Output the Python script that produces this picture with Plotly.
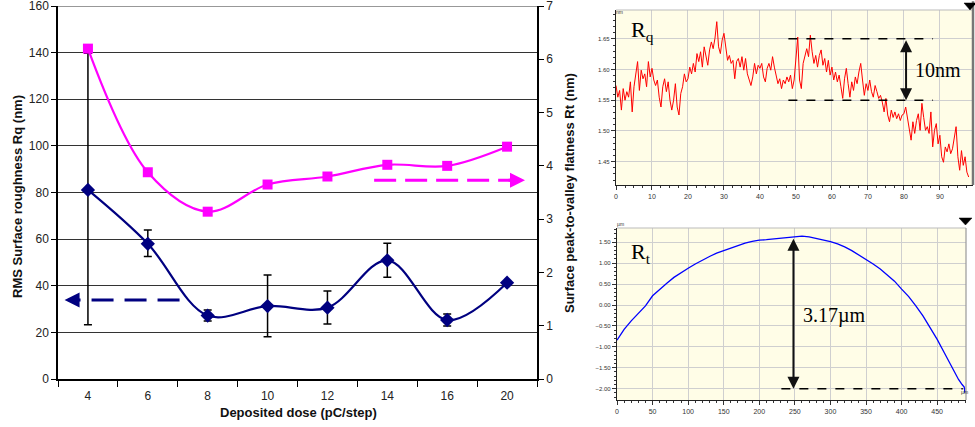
import plotly.graph_objects as go

# ---------------- main chart data ----------------
doses = ["4", "6", "8", "10", "12", "14", "16", "20"]
rq_rms = [81.1, 58.0, 27.2, 31.3, 30.6, 50.9, 25.3, 41.3]
rq_err_plus = [58.6, 5.9, 2.4, 13.3, 7.1, 7.3, 2.6, 0.0]
rq_err_minus = [57.8, 5.5, 2.3, 13.2, 7.0, 7.3, 2.6, 0.0]
rt_pv = [6.2, 3.88, 3.14, 3.65, 3.80, 4.02, 4.0, 4.36]

left_ticks = [0, 20, 40, 60, 80, 100, 120, 140, 160]
right_ticks = [0, 1, 2, 3, 4, 5, 6, 7]

# ---------------- Rq profile (top right) ----------------
rq_pos = [0, 0.5, 1, 1.5, 2, 2.5, 3, 3.5, 4, 4.5, 5, 5.5, 6, 6.5, 7, 7.5, 8, 8.5, 9, 9.5,
          10, 10.5, 11, 11.5, 12, 12.5, 13, 13.5, 14, 14.5, 15, 15.5, 16, 16.5, 17, 17.5, 18, 18.5, 19, 19.5,
          20, 20.5, 21, 21.5, 22, 22.5, 23, 23.5, 24, 24.5, 25, 25.5, 26, 26.5, 27, 27.5, 28, 28.5, 29, 29.5,
          30, 30.5, 31, 31.5, 32, 32.5, 33, 33.5, 34, 34.5, 35, 35.5, 36, 36.5, 37, 37.5, 38, 38.5, 39, 39.5,
          40, 40.5, 41, 41.5, 42, 42.5, 43, 43.5, 44, 44.5, 45, 45.5, 46, 46.5, 47, 47.5, 48, 48.5, 49, 49.5,
          50, 50.5, 51, 51.5, 52, 52.5, 53, 53.5, 54, 54.5, 55, 55.5, 56, 56.5, 57, 57.5, 58, 58.5, 59, 59.5,
          60, 60.5, 61, 61.5, 62, 62.5, 63, 63.5, 64, 64.5, 65, 65.5, 66, 66.5, 67, 67.5, 68, 68.5, 69, 69.5,
          70, 70.5, 71, 71.5, 72, 72.5, 73, 73.5, 74, 74.5, 75, 75.5, 76, 76.5, 77, 77.5, 78, 78.5, 79, 79.5,
          80, 80.5, 81, 81.5, 82, 82.5, 83, 83.5, 84, 84.5, 85, 85.5, 86, 86.5, 87, 87.5, 88, 88.5, 89, 89.5,
          90, 90.5, 91, 91.5, 92, 92.5, 93, 93.5, 94, 94.5, 95, 95.5, 96, 96.5, 97, 97.5, 98]
rq_profile = [
    1.574, 1.555, 1.566, 1.534, 1.569, 1.550, 1.564, 1.555, 1.580, 1.531,
    1.572, 1.593, 1.613, 1.566, 1.599, 1.585, 1.593, 1.572, 1.613, 1.588,
    1.602, 1.583, 1.574, 1.583, 1.555, 1.539, 1.572, 1.585, 1.564, 1.580,
    1.550, 1.534, 1.550, 1.577, 1.539, 1.526, 1.561, 1.572, 1.593, 1.580,
    1.585, 1.604, 1.593, 1.610, 1.596, 1.626, 1.613, 1.629, 1.604, 1.637,
    1.618, 1.607, 1.632, 1.645, 1.634, 1.651, 1.678, 1.637, 1.626, 1.648,
    1.659, 1.637, 1.615, 1.623, 1.610, 1.615, 1.585, 1.613, 1.618, 1.604,
    1.621, 1.599, 1.618, 1.593, 1.583, 1.574, 1.588, 1.610, 1.593, 1.607,
    1.602, 1.610, 1.588, 1.580, 1.602, 1.610, 1.599, 1.621, 1.604, 1.588,
    1.577, 1.585, 1.569, 1.583, 1.577, 1.588, 1.580, 1.591, 1.569, 1.583,
    1.618, 1.653, 1.583, 1.569, 1.610, 1.623, 1.634, 1.621, 1.656, 1.629,
    1.610, 1.623, 1.604, 1.623, 1.632, 1.607, 1.618, 1.596, 1.615, 1.591,
    1.604, 1.583, 1.596, 1.580, 1.591, 1.572, 1.553, 1.585, 1.602, 1.577,
    1.555, 1.580, 1.566, 1.588, 1.577, 1.596, 1.610, 1.583, 1.558, 1.577,
    1.566, 1.583, 1.564, 1.555, 1.574, 1.564, 1.553, 1.558, 1.547, 1.531,
    1.553, 1.526, 1.515, 1.534, 1.522, 1.531, 1.520, 1.528, 1.517, 1.526,
    1.528, 1.539, 1.522, 1.501, 1.485, 1.515, 1.496, 1.517, 1.528, 1.501,
    1.545, 1.522, 1.501, 1.507, 1.496, 1.531, 1.474, 1.501, 1.512, 1.479,
    1.493, 1.458, 1.449, 1.474, 1.466, 1.479, 1.463, 1.471, 1.490, 1.507,
    1.458, 1.436, 1.468, 1.444, 1.458, 1.433, 1.425]
rq_xticks = [0, 10, 20, 30, 40, 50, 60, 70, 80, 90]
rq_yticks = [1.45, 1.50, 1.55, 1.60, 1.65]

# ---------------- Rt profile (bottom right) ----------------
rt_pos = [0, 10, 20, 30, 40, 50, 60, 70, 80, 90, 100, 110, 120, 130, 140, 150, 160, 170, 180, 190,
          200, 210, 220, 230, 240, 250, 260, 270, 280, 290, 300, 310, 320, 330, 340, 350, 360, 370, 380,
          390, 400, 410, 420, 430, 440, 450, 460, 470, 480, 485, 488, 489]
rt_profile = [-0.84, -0.58, -0.38, -0.20, -0.02, 0.22, 0.38, 0.52, 0.66, 0.78, 0.88, 0.98, 1.08, 1.16,
              1.24, 1.30, 1.36, 1.42, 1.48, 1.52, 1.55, 1.56, 1.58, 1.60, 1.62, 1.636, 1.644, 1.628,
              1.596, 1.564, 1.516, 1.46, 1.39, 1.30, 1.20, 1.08, 0.98, 0.86, 0.72, 0.57, 0.38, 0.20,
              -0.02, -0.26, -0.54, -0.82, -1.14, -1.46, -1.78, -1.90, -1.96, -2.10]
rt_xticks = [0, 50, 100, 150, 200, 250, 300, 350, 400, 450]
rt_yticks = [-2.0, -1.5, -1.0, -0.5, 0.0, 0.5, 1.0, 1.5]

W, H = 975, 427
def px(x):
    return x / W
def py(y):
    return 1 - y / H

NAVY = "#000080"
MAG = "#FF00FF"
FONT = "Liberation Sans"
SERIF = "Liberation Serif"

fig = go.Figure()

fig.add_trace(go.Scatter(
    x=doses, y=rq_rms, mode="lines+markers", xaxis="x", yaxis="y",
    line=dict(color=NAVY, width=2.2, shape="spline", smoothing=1.0),
    marker=dict(symbol="diamond", size=11, color=NAVY),
    error_y=dict(type="data", array=rq_err_plus, arrayminus=rq_err_minus,
                 color="black", thickness=1.5, width=4),
    showlegend=False))

fig.add_trace(go.Scatter(
    x=doses, y=rt_pv, mode="lines+markers", xaxis="x", yaxis="y2",
    line=dict(color=MAG, width=2.2, shape="spline", smoothing=1.0),
    marker=dict(symbol="square", size=10, color=MAG),
    showlegend=False))

fig.add_trace(go.Scatter(
    x=rq_pos, y=rq_profile, mode="lines", xaxis="x2", yaxis="y3",
    line=dict(color="#FF0000", width=1), showlegend=False))

fig.add_trace(go.Scatter(
    x=rt_pos, y=rt_profile, mode="lines", xaxis="x3", yaxis="y4",
    line=dict(color="#0000FF", width=1.3), showlegend=False))

tickfont = dict(family=FONT, size=12, color="#222")
small_font = dict(family=FONT, size=7, color="#333")

fig.update_layout(
    width=W, height=H, margin=dict(l=0, r=0, t=0, b=0, autoexpand=False),
    paper_bgcolor="white", plot_bgcolor="white",
    font=dict(family=FONT),
    xaxis=dict(domain=[px(58), px(537)], type="category", range=[-0.5, 7.5],
               tickson="boundaries", ticks="outside", ticklen=6, tickwidth=1.3,
               tickcolor="black", showline=True, linecolor="black", linewidth=1.5,
               showgrid=False, tickfont=tickfont, anchor="y", automargin=False,
               ticklabelstandoff=5),
    yaxis=dict(domain=[py(379), py(6)], range=[0, 160], tickvals=left_ticks,
               ticks="outside", ticklen=5, tickwidth=1.3, tickcolor="black",
               showline=True, linecolor="black", linewidth=1.5,
               showgrid=True, gridcolor="#333", gridwidth=1, zeroline=False,
               tickfont=tickfont, anchor="x", automargin=False, ticklabeloverflow="allow"),
    yaxis2=dict(domain=[py(379), py(6)], range=[0, 7], tickvals=right_ticks,
                overlaying="y", side="right", anchor="x",
                ticks="outside", ticklen=5, tickwidth=1.3, tickcolor="black",
                showline=True, linecolor="black", linewidth=1.5,
                showgrid=False, zeroline=False, tickfont=tickfont, automargin=False,
                ticklabeloverflow="allow"),
    xaxis2=dict(domain=[px(616), px(973)], range=[0, 99.2], tickvals=rq_xticks,
                anchor="y3", ticks="outside", ticklen=4, tickcolor="#333",
                minor=dict(ticks="outside", ticklen=2, dtick=2.5, tickcolor="#333", showgrid=False),
                showline=True, linecolor="#222", linewidth=1.2,
                showgrid=True, gridcolor="#cfcfcf", gridwidth=1, zeroline=False,
                tickfont=small_font, automargin=False),
    yaxis3=dict(domain=[py(185), py(10)], range=[1.412, 1.697], tickvals=rq_yticks,
                tickformat=".2f", anchor="x2", ticks="outside", ticklen=4, tickcolor="#333",
                minor=dict(ticks="outside", ticklen=2, dtick=0.01, tickcolor="#333", showgrid=False),
                showline=True, linecolor="#222", linewidth=1.2,
                showgrid=True, gridcolor="#cfcfcf", gridwidth=1, zeroline=False,
                tickfont=dict(family=FONT, size=6, color="#333"), automargin=False),
    xaxis3=dict(domain=[px(617), px(966)], range=[0, 490.5], tickvals=rt_xticks,
                anchor="y4", ticks="outside", ticklen=4, tickcolor="#333",
                minor=dict(ticks="outside", ticklen=2, dtick=10, tickcolor="#333", showgrid=False),
                showline=True, linecolor="#222", linewidth=1.2,
                showgrid=True, gridcolor="#cfcfcf", gridwidth=1, zeroline=False,
                tickfont=small_font, automargin=False),
    yaxis4=dict(domain=[py(400), py(228)], range=[-2.27, 1.84], tickvals=rt_yticks,
                tickformat=".2f", anchor="x3", ticks="outside", ticklen=4, tickcolor="#333",
                minor=dict(ticks="outside", ticklen=2, dtick=0.1, tickcolor="#333", showgrid=False),
                showline=True, linecolor="#222", linewidth=1.2,
                showgrid=True, gridcolor="#cfcfcf", gridwidth=1, zeroline=False,
                tickfont=dict(family=FONT, size=6, color="#333"), automargin=False),
)

shapes = []
# yellow backgrounds for the profile panels
shapes.append(dict(type="rect", xref="x2 domain", yref="y3 domain", x0=0, x1=1, y0=0, y1=1,
                   fillcolor="#FFFDE7", line=dict(width=0), layer="below"))
shapes.append(dict(type="rect", xref="x3 domain", yref="y4 domain", x0=0, x1=1, y0=0, y1=1,
                   fillcolor="#FFFDE7", line=dict(width=0), layer="below"))
# top gridline of main chart (plotly drops gridlines on the domain edge)
shapes.append(dict(type="line", xref="x domain", yref="y", x0=0, x1=1, y0=160, y1=160,
                   line=dict(color="#333", width=1)))
# panel frames (top/right)
shapes.append(dict(type="line", xref="x2 domain", yref="y3 domain", x0=0, x1=1, y0=1, y1=1,
                   line=dict(color="#bbbbbb", width=1)))
shapes.append(dict(type="line", xref="x2 domain", yref="y3 domain", x0=1, x1=1, y0=0, y1=1.05,
                   line=dict(color="#777777", width=2.5)))
shapes.append(dict(type="line", xref="x3 domain", yref="y4 domain", x0=0, x1=1, y0=1, y1=1,
                   line=dict(color="#bbbbbb", width=1)))
shapes.append(dict(type="line", xref="x3 domain", yref="y4 domain", x0=1, x1=1, y0=0, y1=1,
                   line=dict(color="#999999", width=1.2)))
# main chart dashed arrows
shapes.append(dict(type="line", xref="x", yref="y", x0=1.53, x1=-0.22, y0=33.9, y1=33.9,
                   line=dict(color=NAVY, width=3, dash="22px,11px")))
shapes.append(dict(type="line", xref="x", yref="y2", x0=4.78, x1=7.12, y0=3.73, y1=3.73,
                   line=dict(color=MAG, width=3, dash="22px,9px")))
# Rq dashed reference lines
for yv in [1.65, 1.55]:
    shapes.append(dict(type="line", xref="x2", yref="y3", x0=47.9, x1=88.1, y0=yv, y1=yv,
                       line=dict(color="black", width=1.5, dash="dash")))
# Rt dashed reference line
shapes.append(dict(type="line", xref="x3", yref="y4", x0=231, x1=486, y0=-2.0, y1=-2.0,
                   line=dict(color="black", width=1.5, dash="dash")))

# corner cursor triangles
def tri(xl, xr, yt, yb):
    xm = (xl + xr) / 2
    return dict(type="path", xref="paper", yref="paper",
                path=f"M {px(xl)},{py(yt)} L {px(xr)},{py(yt)} L {px(xm)},{py(yb)} Z",
                fillcolor="black", line=dict(color="black", width=0.5))
shapes.append(tri(964, 976, 3, 10))
shapes.append(tri(959, 972, 218, 225))

annotations = []
# axis titles
annotations.append(dict(text="<b>RMS Surface roughness Rq (nm)</b>", xref="paper", yref="paper",
                        x=px(17), y=py(197), textangle=-90, showarrow=False,
                        font=dict(family=FONT, size=13, color="#111"), xanchor="center", yanchor="middle"))
annotations.append(dict(text="<b>Surface peak-to-valley flatness Rt (nm)</b>", xref="paper", yref="paper",
                        x=px(569), y=py(193), textangle=-90, showarrow=False,
                        font=dict(family=FONT, size=13, color="#111"), xanchor="center", yanchor="middle"))
annotations.append(dict(text="<b>Deposited dose (pC/step)</b>", xref="paper", yref="paper",
                        x=px(298), y=py(412), showarrow=False,
                        font=dict(family=FONT, size=13, color="#111"), xanchor="center", yanchor="middle"))
# arrow heads of main chart dashed arrows
annotations.append(dict(text="", xref="x", yref="y", x=-0.39, y=33.9, ax=-0.12, ay=33.9,
                        axref="x", ayref="y", showarrow=True, arrowhead=2, arrowsize=1,
                        arrowwidth=3, arrowcolor=NAVY))
annotations.append(dict(text="", xref="x", yref="y2", x=7.3, y=3.73, ax=7.0, ay=3.73,
                        axref="x", ayref="y2", showarrow=True, arrowhead=2, arrowsize=1,
                        arrowwidth=3, arrowcolor=MAG))
# Rq panel annotations
annotations.append(dict(text="R<sub>q</sub>", xref="x2", yref="y3", x=3.5, y=1.662,
                        showarrow=False, xanchor="left", yanchor="middle",
                        font=dict(family=SERIF, size=22, color="black")))
annotations.append(dict(text="", xref="x2", yref="y3", x=80.6, y=1.55, ax=80.6, ay=1.65,
                        axref="x2", ayref="y3", showarrow=True, arrowhead=2, arrowside="end+start",
                        arrowsize=1.2, arrowwidth=2, arrowcolor="#111"))
annotations.append(dict(text="10nm", xref="x2", yref="y3", x=82.5, y=1.6,
                        showarrow=False, xanchor="left", yanchor="middle",
                        font=dict(family=SERIF, size=20, color="black")))
# Rt panel annotations
annotations.append(dict(text="R<sub>t</sub>", xref="x3", yref="y4", x=17, y=1.25,
                        showarrow=False, xanchor="left", yanchor="middle",
                        font=dict(family=SERIF, size=22, color="black")))
annotations.append(dict(text="", xref="x3", yref="y4", x=248, y=-2.0, ax=248, ay=1.62,
                        axref="x3", ayref="y4", showarrow=True, arrowhead=2, arrowside="end+start",
                        arrowsize=1.2, arrowwidth=2, arrowcolor="#111"))
annotations.append(dict(text="3.17\u00b5m", xref="x3", yref="y4", x=258, y=-0.25,
                        showarrow=False, xanchor="left", yanchor="middle",
                        font=dict(family=SERIF, size=20, color="black")))
# unit labels
annotations.append(dict(text="nm", xref="paper", yref="paper", x=px(619), y=py(7),
                        showarrow=False, font=dict(family=FONT, size=5, color="#333")))
annotations.append(dict(text="\u00b5m", xref="paper", yref="paper", x=px(620), y=py(224),
                        showarrow=False, font=dict(family=FONT, size=5, color="#333")))
annotations.append(dict(text="\u00b5m", xref="paper", yref="paper", x=px(970), y=py(397),
                        showarrow=False, font=dict(family=FONT, size=5, color="#333")))

fig.update_layout(shapes=shapes, annotations=annotations)

fig.write_html("out.html", config={"displayModeBar": False},
               post_script="document.body.style.margin='0';document.body.style.padding='0';document.body.style.overflow='hidden';")
